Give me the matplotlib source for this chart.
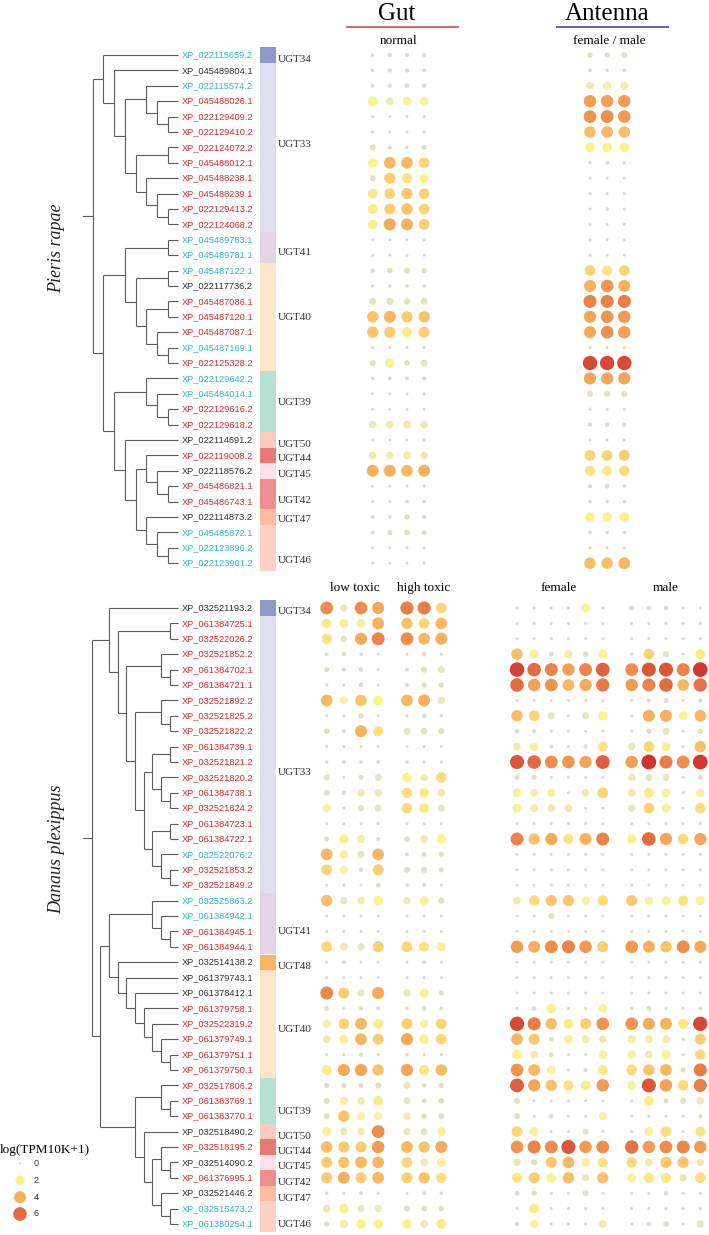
import numpy as np
import matplotlib.pyplot as plt
from matplotlib.colors import LinearSegmentedColormap

plt.rc('font', family='Liberation Serif')

#===================
# Genes / groups
#===================
pr_genes = ['XP_022115659.2', 'XP_045489804.1', 'XP_022115574.2', 'XP_045488026.1',
            'XP_022129409.2', 'XP_022129410.2', 'XP_022124072.2', 'XP_045488012.1',
            'XP_045488238.1', 'XP_045488239.1', 'XP_022129413.2', 'XP_022124068.2',
            'XP_045489783.1', 'XP_045489781.1', 'XP_045487122.1', 'XP_022117736.2',
            'XP_045487086.1', 'XP_045487120.1', 'XP_045487087.1', 'XP_045487169.1',
            'XP_022125328.2', 'XP_022129642.2', 'XP_045484014.1', 'XP_022129616.2',
            'XP_022129618.2', 'XP_022114691.2', 'XP_022119008.2', 'XP_022118576.2',
            'XP_045486821.1', 'XP_045486743.1', 'XP_022114873.2', 'XP_045485872.1',
            'XP_022123896.2', 'XP_022123901.2']
pr_cols = 'bkbrrrrrrrrrbbbkrrrbrbbrrkrkrrkbbb'
pr_groups = ['UGT34', 'UGT33', 'UGT41', 'UGT40', 'UGT39', 'UGT50', 'UGT44', 'UGT45',
             'UGT42', 'UGT47', 'UGT46']
pr_sizes = [1, 11, 2, 7, 4, 1, 1, 1, 2, 1, 3]

dp_genes = ['XP_032521193.2', 'XP_061384725.1', 'XP_032522026.2', 'XP_032521852.2',
            'XP_061384702.1', 'XP_061384721.1', 'XP_032521892.2', 'XP_032521825.2',
            'XP_032521822.2', 'XP_061384739.1', 'XP_032521821.2', 'XP_032521820.2',
            'XP_061384738.1', 'XP_032521824.2', 'XP_061384723.1', 'XP_061384722.1',
            'XP_032522076.2', 'XP_032521853.2', 'XP_032521849.2', 'XP_032525863.2',
            'XP_061384942.1', 'XP_061384945.1', 'XP_061384944.1', 'XP_032514138.2',
            'XP_061379743.1', 'XP_061378412.1', 'XP_061379758.1', 'XP_032522319.2',
            'XP_061379749.1', 'XP_061379751.1', 'XP_061379750.1', 'XP_032517806.2',
            'XP_061383769.1', 'XP_061383770.1', 'XP_032518490.2', 'XP_032518195.2',
            'XP_032514090.2', 'XP_061376995.1', 'XP_032521446.2', 'XP_032515473.2',
            'XP_061380254.1']
dp_cols = 'krrrrrrrrrrrrrrrbrrbbrrkkkrrrrrrrrkrkrkbb'
dp_groups = ['UGT34', 'UGT33', 'UGT41', 'UGT48', 'UGT40', 'UGT39', 'UGT50', 'UGT44',
             'UGT45', 'UGT42', 'UGT47', 'UGT46']
dp_sizes = [1, 18, 4, 1, 7, 3, 1, 1, 1, 1, 1, 2]

group_color = {'UGT34': '#8c99c9', 'UGT33': '#e0dff0', 'UGT41': '#e3d4e6',
               'UGT40': '#fee4c9', 'UGT39': '#b4e1d1', 'UGT50': '#f9cbbf',
               'UGT44': '#e67a74', 'UGT45': '#fde1ea', 'UGT42': '#ee8e8d',
               'UGT47': '#fbbca0', 'UGT46': '#fdd1c5', 'UGT48': '#f9b566'}

# trees (leaf = row index)
tree_pr = ((0, (1, ((2, (3, (4, 5))), ((6, 7), (8, (9, (10, 11))))))),
           (((12, 13), ((14, 15), ((16, 17), (18, (19, 20))))),
            ((21, (22, (23, 24))), (25, ((26, (27, (28, 29))), (30, (31, (32, 33))))))))
tree_dp = ((0, ((1, 2), ((3, (4, 5)), ((6, (7, 8)), (((9, 10), (11, (12, 13))),
                                                     ((14, 15), (16, (17, 18)))))))),
           (((19, (20, (21, 22))), (23, (24, (25, (26, (27, (28, (29, 30)))))))),
            ((31, (32, 33)), (34, ((35, (36, 37)), (38, (39, 40)))))))

#===================
# log(TPM10K+1)
#===================
pr_gut = [[0.2, 0.4, 0.4, 0.3], [0.2, 0.4, 0.4, 0.3], [0.3, 0.4, 0.5, 0.4], [2.0, 1.2, 1.7, 1.7],
          [0.1, 0.1, 0.1, 0.1], [0.2, 0.1, 0.1, 0.2], [0.8, 0.3, 0.2, 0.6], [2.0, 3.8, 3.8, 3.0],
          [0.7, 3.3, 2.6, 2.0], [2.3, 3.0, 3.4, 3.0], [2.3, 3.2, 3.5, 3.0], [2.1, 4.2, 4.0, 3.1],
          [0.1, 0.1, 0.1, 0.1], [0.1, 0.1, 0.1, 0.1], [0.4, 0.7, 0.8, 0.6], [0.2, 0.2, 0.2, 0.2],
          [1.0, 1.0, 0.9, 1.0], [3.5, 3.9, 3.3, 3.5], [3.5, 3.3, 2.2, 3.2], [0.1, 0.1, 0.1, 0.1],
          [0.8, 2.0, 0.7, 1.0], [0.2, 0.3, 0.3, 0.3], [0.1, 0.1, 0.1, 0.1], [0.1, 0.1, 0.1, 0.1],
          [1.2, 1.3, 1.3, 1.2], [0.1, 0.1, 0.1, 0.1], [1.2, 1.2, 1.4, 1.2], [4.0, 4.0, 3.8, 4.0],
          [0.1, 0.1, 0.1, 0.1], [0.1, 0.1, 0.2, 0.2], [0.4, 0.2, 0.6, 0.4], [0.4, 0.6, 0.7, 0.5],
          [0.1, 0.1, 0.1, 0.1], [0.1, 0.1, 0.1, 0.1]]
pr_ant = [[0.6, 0.6, 0.8], [0.3, 0.2, 0.3], [1.2, 1.5, 1.3], [4.5, 4.5, 4.6], [4.8, 5.0, 4.7],
          [3.6, 3.8, 3.6], [2.0, 2.0, 2.0], [0.2, 0.2, 0.1], [0.1, 0.1, 0.1], [0.1, 0.1, 0.1],
          [0.1, 0.2, 0.1], [0.1, 0.1, 0.1], [0.1, 0.1, 0.1], [0.1, 0.1, 0.1], [3.0, 2.6, 3.0],
          [4.0, 4.8, 4.0], [5.3, 5.3, 5.4], [4.3, 4.8, 4.6], [4.2, 4.9, 4.5], [0.1, 0.1, 0.1],
          [6.8, 6.8, 6.8], [4.3, 4.3, 4.3], [0.8, 0.8, 0.8], [0.2, 0.1, 0.1], [0.4, 0.4, 0.4],
          [0.1, 0.1, 0.1], [3.0, 3.0, 3.2], [2.6, 2.3, 2.8], [0.4, 0.5, 0.2], [0.2, 0.2, 0.2],
          [2.0, 2.0, 2.1], [0.3, 0.2, 0.2], [0.1, 0.1, 0.1], [3.6, 3.6, 3.8]]

dp_low = [[5.0, 1.0, 5.0, 4.2], [2.2, 1.8, 1.7, 4.0], [2.6, 0.8, 4.2, 5.2], [0.3, 0.4, 0.3, 0.1],
          [0.5, 0.3, 0.4, 0.1], [0.2, 0.1, 0.4, 0.1], [3.8, 1.5, 3.5, 2.0], [0.1, 0.1, 0.6, 0.1],
          [0.7, 0.3, 4.0, 2.6], [0.1, 0.1, 0.1, 0.1], [0.2, 0.3, 0.2, 0.3], [0.8, 0.1, 0.6, 1.0],
          [0.8, 0.4, 1.2, 1.2], [1.6, 0.1, 0.8, 1.0], [0.1, 0.1, 0.1, 0.1], [0.5, 2.0, 1.5, 0.3],
          [3.8, 1.5, 1.0, 3.8], [3.0, 1.5, 0.4, 3.2], [0.1, 0.1, 0.1, 0.5], [3.6, 1.0, 1.3, 2.0],
          [0.1, 0.1, 0.1, 0.1], [0.1, 0.1, 0.1, 0.1], [3.0, 1.3, 1.0, 3.2], [0.1, 0.3, 0.1, 0.1],
          [0.1, 0.1, 0.1, 0.1], [5.2, 3.2, 1.0, 4.2], [0.5, 0.1, 0.4, 0.3], [1.5, 3.0, 3.8, 2.2],
          [1.3, 1.8, 3.8, 3.2], [0.1, 0.1, 0.4, 0.2], [2.2, 4.2, 4.3, 3.5], [0.6, 0.6, 0.5, 0.8],
          [0.8, 1.5, 1.3, 2.2], [0.8, 3.5, 1.5, 1.5], [1.8, 1.0, 1.2, 5.0], [3.6, 3.3, 3.3, 4.6],
          [3.3, 3.5, 3.8, 3.8], [3.3, 4.0, 3.2, 3.8], [0.2, 0.2, 0.3, 0.2], [1.2, 2.0, 1.0, 1.2],
          [0.6, 1.5, 2.0, 2.0]]
dp_high = [[5.5, 5.5, 3.0], [3.5, 3.0, 3.8], [5.0, 3.8, 4.0], [0.1, 0.5, 0.1], [0.3, 0.8, 1.0],
           [0.3, 0.6, 0.6], [3.8, 4.0, 1.2], [0.2, 0.5, 0.2], [1.0, 0.9, 0.8], [0.1, 0.1, 0.1],
           [0.2, 0.1, 0.1], [2.0, 1.2, 2.8], [2.8, 2.2, 1.3], [2.8, 2.3, 1.0], [0.1, 0.1, 0.1],
           [0.7, 1.3, 2.0], [0.3, 0.5, 0.6], [0.8, 0.8, 0.6], [0.2, 0.3, 0.1], [1.2, 1.8, 0.8],
           [0.1, 0.1, 0.1], [0.1, 0.1, 0.1], [3.0, 2.5, 1.8], [0.1, 0.3, 0.1], [0.1, 0.1, 0.1],
           [1.2, 1.8, 0.6], [0.3, 0.5, 0.3], [3.2, 1.5, 3.0], [4.2, 2.0, 3.0], [0.2, 0.1, 0.1],
           [4.3, 2.5, 3.6], [1.0, 0.4, 0.6], [1.0, 0.5, 0.7], [1.3, 0.6, 0.8], [1.1, 0.9, 1.6],
           [3.8, 3.5, 4.2], [3.0, 1.2, 1.8], [3.2, 3.5, 2.7], [0.1, 0.3, 0.2], [0.8, 0.7, 0.6],
           [2.0, 1.2, 2.2]]
dp_female = [[0.1, 0.1, 0.1, 0.1, 1.7, 0.1], [0.1, 0.1, 0.1, 0.1, 0.1, 0.1], [0.1, 0.1, 0.1, 0.1, 0.1, 0.1],
             [3.6, 1.7, 0.5, 1.5, 0.7, 1.8], [7.0, 6.0, 5.2, 4.5, 5.2, 6.2], [6.0, 4.5, 4.8, 3.8, 4.2, 5.6],
             [0.1, 0.1, 0.1, 0.1, 0.1, 0.1], [3.6, 3.0, 1.0, 0.1, 1.0, 2.0], [0.5, 0.3, 0.1, 0.1, 0.1, 0.1],
             [1.3, 1.7, 0.3, 0.1, 0.4, 2.5], [6.5, 6.0, 5.0, 4.8, 4.3, 6.3], [0.6, 0.6, 0.1, 0.1, 0.1, 0.1],
             [1.6, 1.4, 1.6, 0.1, 1.2, 3.0], [1.7, 1.4, 1.3, 1.3, 0.1, 0.1], [0.1, 0.1, 0.1, 0.1, 0.1, 0.1],
             [5.2, 3.5, 4.2, 2.5, 4.0, 5.3], [0.1, 0.1, 0.1, 0.1, 0.1, 0.1], [0.1, 0.1, 0.1, 0.1, 0.1, 0.1],
             [0.1, 0.1, 0.1, 0.1, 0.1, 0.1], [1.3, 2.8, 3.4, 3.4, 1.5, 2.8], [0.1, 0.1, 0.8, 0.1, 0.1, 0.1],
             [0.1, 0.1, 0.1, 0.1, 0.1, 0.1], [4.6, 4.0, 5.0, 5.3, 4.7, 3.2], [0.1, 0.1, 0.1, 0.1, 0.1, 0.1],
             [0.1, 0.1, 0.1, 0.1, 0.1, 0.1], [0.1, 0.1, 0.1, 0.1, 0.1, 0.1], [0.1, 0.5, 2.0, 0.1, 0.1, 1.7],
             [6.8, 5.5, 3.6, 2.3, 3.2, 4.8], [3.8, 3.3, 0.5, 1.8, 1.4, 1.1], [2.0, 1.2, 0.5, 0.1, 0.1, 1.7],
             [4.8, 3.8, 1.6, 0.1, 0.4, 2.3], [6.3, 4.3, 3.5, 2.6, 2.2, 4.6], [0.8, 0.1, 0.1, 0.1, 0.1, 0.1],
             [0.8, 0.1, 0.4, 0.1, 0.1, 1.5], [3.0, 1.8, 0.1, 0.1, 0.8, 0.1], [4.8, 5.3, 5.0, 6.5, 4.6, 5.0],
             [1.2, 0.8, 3.4, 3.8, 1.6, 2.5], [2.4, 3.3, 2.0, 3.6, 1.1, 3.5], [0.5, 0.6, 0.1, 0.1, 0.8, 0.1],
             [0.1, 2.2, 0.1, 0.1, 0.1, 0.1], [0.4, 1.5, 0.1, 0.1, 0.1, 1.3]]
dp_male = [[0.6, 0.4, 0.5, 0.1, 0.1], [0.1, 0.1, 0.1, 0.1, 0.1], [0.1, 0.1, 0.1, 0.1, 0.1],
           [0.1, 3.0, 0.8, 0.1, 2.3], [5.0, 6.5, 6.5, 5.2, 7.2], [4.6, 5.2, 6.0, 3.8, 5.8],
           [0.1, 0.3, 0.6, 0.1, 0.4], [0.1, 4.0, 4.0, 1.8, 3.8], [0.1, 0.6, 1.0, 0.1, 0.6],
           [1.0, 3.0, 1.8, 0.1, 3.6], [4.5, 7.3, 5.5, 5.0, 7.2], [1.2, 1.0, 1.0, 0.1, 0.5],
           [1.3, 2.2, 1.6, 0.1, 1.6], [1.0, 3.0, 1.7, 0.1, 2.8], [0.1, 0.1, 0.1, 0.1, 0.1],
           [2.0, 6.0, 4.3, 2.8, 4.3], [0.1, 0.1, 0.1, 0.1, 0.1], [0.1, 0.1, 0.1, 0.1, 0.1],
           [0.1, 0.1, 0.1, 0.1, 0.1], [3.3, 1.5, 1.7, 2.6, 1.8], [0.1, 0.1, 0.1, 0.1, 0.1],
           [0.1, 0.1, 0.1, 0.1, 0.1], [4.7, 4.0, 3.5, 5.0, 4.2], [0.1, 0.1, 0.1, 0.1, 0.1],
           [0.1, 0.1, 0.1, 0.1, 0.1], [0.1, 0.1, 0.1, 0.1, 0.1], [0.1, 0.6, 0.1, 0.1, 0.3],
           [4.8, 4.2, 4.0, 2.5, 6.8], [1.6, 1.5, 1.4, 0.1, 3.2], [1.6, 1.2, 1.8, 0.1, 2.8],
           [2.8, 3.5, 3.8, 0.6, 5.4], [1.8, 6.5, 4.5, 2.8, 5.4], [0.1, 2.2, 0.5, 0.8, 1.2],
           [0.1, 0.1, 0.1, 0.1, 0.4], [0.1, 1.8, 2.8, 0.1, 2.5], [5.8, 4.6, 5.0, 5.2, 4.6],
           [2.8, 1.3, 3.4, 3.4, 1.2], [1.8, 2.4, 2.4, 1.1, 2.8], [0.1, 0.1, 0.4, 0.1, 0.1],
           [0.1, 0.1, 0.1, 0.1, 0.1], [0.1, 0.4, 0.7, 0.1, 1.0]]

legend_vals = [0, 2, 4, 6]

#===================
# helpers
#===================
cmap = LinearSegmentedColormap.from_list('tpm', [
    (0.0, '#d6d6d6'), (0.8 / 7.3, '#e2e1c3'), (1.5 / 7.3, '#f4f0a6'), (2 / 7.3, '#fcf28c'),
    (3 / 7.3, '#fdd576'), (4 / 7.3, '#f7b15d'), (5 / 7.3, '#ee8d4c'), (6 / 7.3, '#e26c42'),
    (1.0, '#d13330')])
VMAX = 7.3
label_c = {'b': '#2cb5e8', 'r': '#e8262c', 'k': '#333333'}
PITCH = 15.4
LEAF_X = 178.3


def dot_size(v):
    d = np.interp(v, [0, 1, 2, 4, 6, 7.5], [2.5, 7, 9.5, 12, 13.6, 15])
    return (d * 0.72) ** 2


def height(node):
    if isinstance(node, int):
        return 0
    return max(height(c) for c in node) + 1


def draw_tree(ax, node, ys, unit):
    # returns (x, y) of node
    if isinstance(node, int):
        return LEAF_X, ys[node]
    x = LEAF_X - height(node) * unit
    pts = [draw_tree(ax, c, ys, unit) for c in node]
    cy = [p[1] for p in pts]
    ax.plot([x, x], [min(cy), max(cy)], color='#5a5a5a', lw=0.8, solid_capstyle='butt')
    for px, py in pts:
        ax.plot([x, px], [py, py], color='#5a5a5a', lw=0.8, solid_capstyle='butt')
    return x, np.mean(cy)


def draw_panel(ax, genes, cols, groups, sizes, tree, y0, root_x, nudges, species, sp_y):
    ys = y0 + PITCH * np.arange(len(genes))
    for g, c, y in zip(genes, cols, ys):
        ax.text(181.5, y, g, color=label_c[c], fontsize=6.7, family='Liberation Sans',
                ha='left', va='center')
    unit = (LEAF_X - root_x) / height(tree)
    rx, ry = draw_tree(ax, tree, ys, unit)
    ax.plot([82.7, rx], [ry, ry], color='#5a5a5a', lw=0.8)
    start = 0
    for grp, n, dy in zip(groups, sizes, nudges):
        top = ys[start] - PITCH / 2
        ax.barh(top + n * PITCH / 2, 16, height=n * PITCH, left=260,
                color=group_color[grp], lw=0)
        ax.text(278, ys[start] + (n - 1) * PITCH / 2 + dy, grp, fontsize=8,
                ha='left', va='center', color='#333333')
        start += n
    ax.text(56.5, sp_y, species, fontsize=13, style='italic', rotation=90,
            ha='center', va='center', color='#222222')
    return ys


def draw_dots(ax, ys, vals, x0):
    vals = np.array(vals)
    xs = x0 + 17.15 * np.arange(vals.shape[1])
    X, Y = np.meshgrid(xs, ys)
    ax.scatter(X.ravel(), Y.ravel(), s=dot_size(vals.ravel()), c=vals.ravel(),
               cmap=cmap, vmin=0, vmax=VMAX, linewidths=0, zorder=3)


#===================
# Plot
#===================
fig = plt.figure(figsize=(7.09, 12.35), dpi=100)
ax = fig.add_axes([0, 0, 1, 1])
ax.set_xlim(0, 709)
ax.set_ylim(1235, 0)
ax.axis('off')

ys_pr = draw_panel(ax, pr_genes, pr_cols, pr_groups, pr_sizes, tree_pr, 55, 92.7,
                   [5, -3, 5, 1, 1, 4.5, 3.5, 4, 7, 3, 13], 'Pieris rapae', 248)
ys_dp = draw_panel(ax, dp_genes, dp_cols, dp_groups, dp_sizes, tree_dp, 608, 91.7,
                   [4, 18, 8, 4, 6, 11, 5, 4, 4, 5, 5, 8], 'Danaus plexippus', 849)

draw_dots(ax, ys_pr, pr_gut, 372.7)
draw_dots(ax, ys_pr, pr_ant, 590)
draw_dots(ax, ys_dp, dp_low, 326.7)
draw_dots(ax, ys_dp, dp_high, 407)
draw_dots(ax, ys_dp, dp_female, 517)
draw_dots(ax, ys_dp, dp_male, 631.7)

# headers
ax.text(397, 20, 'Gut', fontsize=18, ha='center', va='baseline')
ax.text(607, 20, 'Antenna', fontsize=18, ha='center', va='baseline')
ax.plot([346.7, 457.7], [26.7, 26.7], color='#e06464', lw=1.4)
ax.plot([556.7, 667.7], [26.7, 26.7], color='#6a5acd', lw=1.4)
ax.text(399, 44, 'normal', fontsize=9.5, ha='center', va='baseline')
ax.text(609, 44, 'female / male', fontsize=9.5, ha='center', va='baseline')
ax.text(355, 591, 'low toxic', fontsize=9.5, ha='center', va='baseline')
ax.text(423.5, 591, 'high toxic', fontsize=9.5, ha='center', va='baseline')
ax.text(558.7, 591, 'female', fontsize=9.5, ha='center', va='baseline')
ax.text(665.7, 591, 'male', fontsize=9.5, ha='center', va='baseline')

# legend
ly = 1163.3 + 16.9 * np.arange(len(legend_vals))
ax.scatter([20] * len(legend_vals), ly, s=dot_size(np.array(legend_vals, float)),
           c=legend_vals, cmap=cmap, vmin=0, vmax=VMAX, linewidths=0)
for v, y in zip(legend_vals, ly):
    ax.text(34, y, str(v), fontsize=6.5, family='Liberation Sans', va='center', color='#333333')
ax.text(0, 1150, 'log(TPM10K+1)', fontsize=9.5, ha='left', va='center')

plt.savefig('out.png', dpi=100)
